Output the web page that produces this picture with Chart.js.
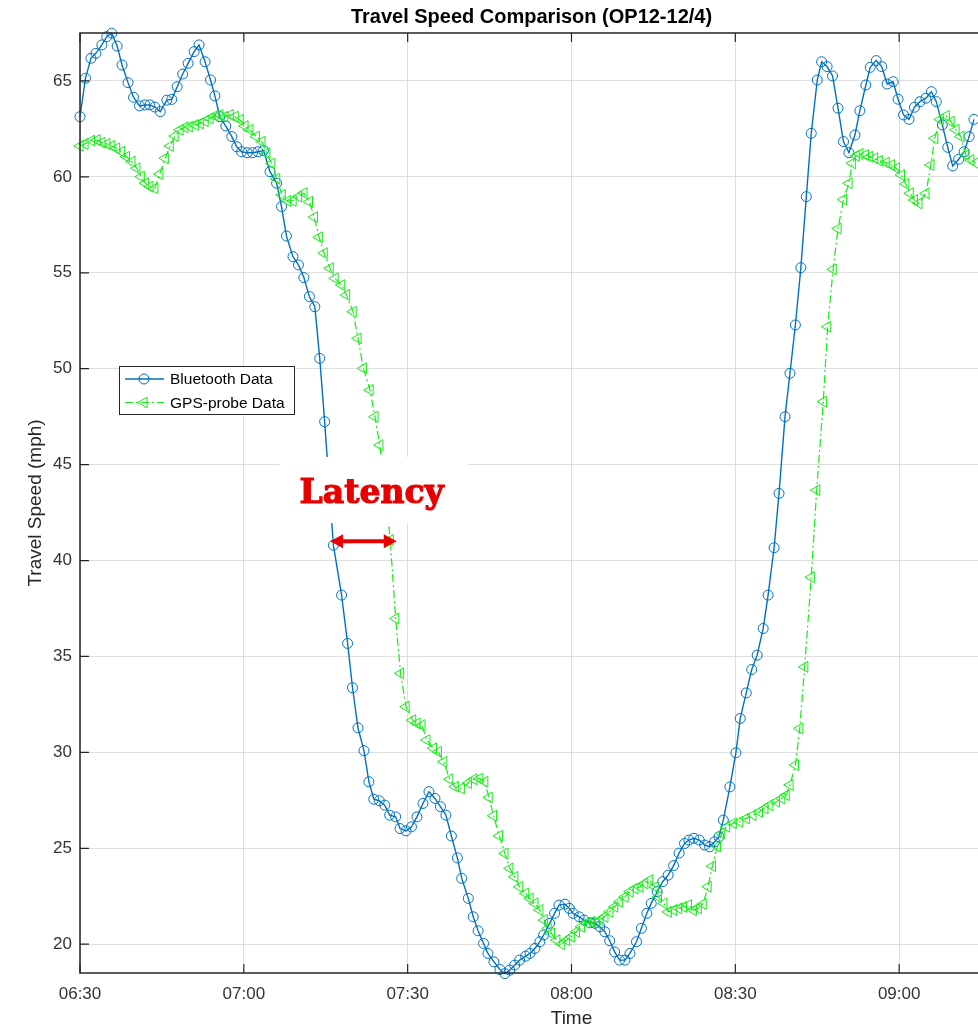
<!DOCTYPE html>
<html>
<head>
<meta charset="utf-8">
<script src="https://cdn.jsdelivr.net/npm/chart.js@4.4.1/dist/chart.umd.min.js"></script>
<style>
html,body{margin:0;padding:0;overflow:hidden;background:#fff;}
#wrap{position:absolute;left:0;top:0;width:1154px;height:1030px;}
</style>
</head>
<body>
<div id="wrap"><canvas id="c" width="1154" height="1030"></canvas></div>
<script>
// ---- data (minutes after 06:30) ----
const tickLabels = ['06:30','07:00','07:30','08:00','08:30','09:00','09:30'];

const btTimes = [0,1.0,2.0,2.9,4.0,4.9,5.8,6.8,7.7,8.8,9.8,10.9,11.9,12.8,13.7,14.7,15.9,16.8,17.8,18.8,
19.8,20.9,21.8,22.9,23.9,24.7,25.6,26.7,27.8,28.7,29.6,30.6,31.6,32.6,33.6,34.8,36.0,36.9,37.8,39.0,
40.0,41.0,42.0,43.0,43.9,44.8,46.4,47.9,49.0,49.9,50.9,52.0,52.9,53.8,54.8,55.8,56.7,57.8,58.6,59.7,
60.7,61.7,62.8,63.9,65.0,66.0,67.0,68.0,69.1,69.9,71.1,72.0,72.9,73.9,74.7,75.8,76.9,77.8,78.7,79.6,
80.5,81.6,82.4,83.3,84.2,84.9,86.0,86.9,87.7,88.8,89.6,90.3,91.4,92.3,93.4,94.3,95.2,96.1,97.0,97.9,
98.8,99.8,100.7,101.9,102.8,103.8,104.6,105.7,106.7,107.7,108.7,109.7,110.7,111.5,112.4,113.4,114.4,115.3,116.2,117.0,
117.8,119.0,120.1,120.9,122.0,123.0,124.0,125.1,126.0,127.1,128.0,129.1,130.0,131.0,132.0,133.0,133.9,135.0,135.8,136.8,
137.8,138.8,139.8,140.8,141.9,142.8,143.9,144.7,145.8,146.8,147.8,148.9,149.8,150.8,151.8,152.8,153.8,154.9,155.9,156.8,
157.9,158.9,159.8,160.9,161.9,162.8,163.7];
const btSpeeds = [63.14,65.14,66.18,66.44,66.88,67.31,67.49,66.82,65.83,64.91,64.15,63.70,63.75,63.75,63.64,63.40,64.00,64.04,64.70,65.36,
65.92,66.53,66.88,66.00,65.05,64.22,63.14,62.65,62.10,61.57,61.31,61.26,61.26,61.31,61.37,60.27,59.67,58.45,56.92,55.84,
55.41,54.75,53.76,53.23,50.54,47.24,40.80,38.20,35.68,33.37,31.28,30.09,28.47,27.56,27.48,27.25,26.73,26.64,26.03,25.91,
26.12,26.64,27.34,27.95,27.60,27.17,26.73,25.64,24.50,23.43,22.39,21.43,20.70,20.04,19.52,19.08,18.68,18.47,18.65,18.91,
19.17,19.38,19.52,19.78,20.13,20.48,21.09,21.61,22.04,22.09,21.87,21.61,21.43,21.26,21.12,21.09,20.91,20.65,20.18,19.60,
19.17,19.17,19.52,20.13,20.83,21.61,22.13,22.74,23.26,23.60,24.10,24.75,25.25,25.43,25.52,25.43,25.17,25.08,25.34,25.60,
26.47,28.20,29.98,31.77,33.10,34.32,35.07,36.46,38.20,40.67,43.50,47.50,49.76,52.28,55.27,58.97,62.27,65.05,66.00,65.75,
65.26,63.58,61.84,61.26,62.18,63.45,64.79,65.71,66.06,65.75,64.84,64.96,64.05,63.23,63.00,63.63,63.92,64.10,64.44,63.92,
62.71,61.54,60.57,60.92,61.31,62.10,63.00];

const gpsTimes = [0,0.9,2.1,3.1,4.0,4.9,5.8,6.7,7.6,8.5,9.5,10.4,11.2,12.0,12.8,13.7,14.6,15.6,16.5,17.4,
18.3,19.2,20.1,21.1,22.0,22.9,23.8,24.7,25.6,26.5,27.5,28.4,29.3,30.2,31.1,32.3,33.3,34.2,35.1,36.0,
37.0,38.0,39.0,40.0,41.0,42.0,42.9,43.8,44.7,45.8,46.7,47.9,48.8,50.0,50.9,51.9,53.1,54.0,54.9,56.0,
56.8,57.8,58.7,59.7,60.9,61.7,62.6,63.5,64.7,65.6,66.6,67.7,68.7,69.8,71.1,72.1,73.2,74.1,74.9,75.7,
76.8,77.8,78.7,79.6,80.5,81.6,82.4,83.3,84.2,85.0,85.7,86.3,87.3,88.2,89.1,90.0,90.9,91.8,92.8,93.7,
94.6,95.2,96.1,97.0,97.9,98.8,99.8,100.7,101.6,102.5,103.4,104.3,105.3,105.9,106.9,107.7,108.7,109.6,110.5,111.4,
112.3,113.2,114.1,115.0,115.8,116.7,117.5,118.4,119.6,120.8,122.0,123.2,124.4,125.4,126.3,127.5,128.5,129.3,130.0,131.0,
131.8,132.7,133.9,134.9,136.1,136.9,137.9,138.8,139.8,140.8,141.4,142.1,142.8,143.8,144.6,145.5,146.4,147.6,148.6,149.5,
150.4,151.2,152.0,152.8,153.6,154.9,155.8,156.5,157.5,158.6,159.5,160.4,161.3,162.2,163.1,164.0];
const gpsSpeeds = [61.61,61.72,61.89,61.92,61.78,61.72,61.61,61.49,61.31,61.05,60.79,60.45,60.01,59.67,59.49,59.40,60.15,60.97,61.61,62.13,
62.45,62.59,62.62,62.71,62.79,62.91,63.05,63.18,63.23,63.14,63.23,63.14,62.97,62.65,62.45,62.10,61.84,61.23,60.70,59.90,
59.06,58.75,58.75,58.97,59.16,58.70,57.90,56.85,56.02,55.24,54.71,54.36,53.84,52.97,51.58,50.02,48.89,47.50,46.02,43.50,
41.07,36.98,34.12,32.38,31.68,31.51,31.42,30.64,30.21,30.03,29.51,28.60,28.21,28.12,28.40,28.60,28.64,28.47,27.65,26.70,
25.65,24.73,23.95,23.51,22.99,22.65,22.39,22.13,21.78,21.26,20.83,20.56,20.21,20.00,20.21,20.39,20.65,20.91,21.12,21.17,
21.12,21.26,21.43,21.69,21.95,22.21,22.47,22.74,22.91,22.99,23.17,23.34,22.99,22.47,22.13,21.69,21.78,21.87,21.95,22.04,
21.78,21.87,22.10,23.00,24.07,25.10,25.78,26.12,26.30,26.38,26.56,26.73,26.90,27.08,27.25,27.43,27.60,27.77,28.30,29.34,
31.25,34.46,39.13,43.67,48.28,52.19,55.18,57.30,58.82,59.67,60.71,61.10,61.19,61.14,61.05,60.97,60.84,60.74,60.62,60.45,
60.10,59.63,59.14,58.80,58.62,59.14,60.62,62.01,63.00,63.18,62.88,62.45,62.10,61.14,60.88,60.72];

// annotation (data units)
const latencyBox = {t0: 36.6, t1: 71.0, v0: 41.95, v1: 45.4};
const latencyText = {t: 53.4, v: 42.98, text: 'Latency'};
const latencyArrow = {t0: 45.8, t1: 58.0, v: 41.0};

// ---- styles ----
const BLUE = '#0072bd';
const GREEN = '#11ee11';
const AXIS = '#262626';
const FONT = "'Liberation Sans', Arial, Helvetica, sans-serif";

const decorPlugin = {
  id: 'decor',
  afterDatasetsDraw(chart) {
    const {ctx, chartArea: a, scales: {x, y}} = chart;
    ctx.save();
    // white box behind latency label
    const bx0 = x.getPixelForValue(latencyBox.t0), bx1 = x.getPixelForValue(latencyBox.t1);
    const by0 = y.getPixelForValue(latencyBox.v1), by1 = y.getPixelForValue(latencyBox.v0);
    ctx.fillStyle = '#ffffff';
    ctx.fillRect(bx0, by0, bx1 - bx0, by1 - by0);
    // latency text
    ctx.fillStyle = '#e80000';
    ctx.strokeStyle = '#e80000';
    ctx.lineWidth = 1.2;
    ctx.font = "bold 33px 'DejaVu Serif', serif";
    ctx.textAlign = 'center';
    ctx.textBaseline = 'alphabetic';
    const tx = x.getPixelForValue(latencyText.t), ty = y.getPixelForValue(latencyText.v);
    ctx.fillText(latencyText.text, tx, ty);
    ctx.strokeText(latencyText.text, tx, ty);
    // arrow
    const ax0 = x.getPixelForValue(latencyArrow.t0), ax1 = x.getPixelForValue(latencyArrow.t1);
    const ay = y.getPixelForValue(latencyArrow.v);
    const hl = 13, hw = 7;
    ctx.lineWidth = 4;
    ctx.beginPath(); ctx.moveTo(ax0 + hl - 2, ay); ctx.lineTo(ax1 - hl + 2, ay); ctx.stroke();
    ctx.beginPath(); ctx.moveTo(ax0, ay); ctx.lineTo(ax0 + hl, ay - hw); ctx.lineTo(ax0 + hl, ay + hw); ctx.closePath(); ctx.fill();
    ctx.beginPath(); ctx.moveTo(ax1, ay); ctx.lineTo(ax1 - hl, ay - hw); ctx.lineTo(ax1 - hl, ay + hw); ctx.closePath(); ctx.fill();
    // frame + inner ticks
    ctx.strokeStyle = AXIS;
    ctx.lineWidth = 1.5;
    ctx.strokeRect(a.left, a.top, a.right - a.left, a.bottom - a.top);
    ctx.lineWidth = 1.2;
    ctx.beginPath();
    y.ticks.forEach(tk => {
      const py = y.getPixelForValue(tk.value);
      ctx.moveTo(a.left, py); ctx.lineTo(a.left + 9, py);
      ctx.moveTo(a.right, py); ctx.lineTo(a.right - 9, py);
    });
    x.ticks.forEach(tk => {
      const px = x.getPixelForValue(tk.value);
      ctx.moveTo(px, a.bottom); ctx.lineTo(px, a.bottom - 9);
      ctx.moveTo(px, a.top); ctx.lineTo(px, a.top + 9);
    });
    ctx.stroke();
    // legend
    const lx = a.left + 39, ly = a.top + 333, lw = 175, lh = 48;
    ctx.fillStyle = '#fff';
    ctx.fillRect(lx, ly, lw, lh);
    ctx.strokeStyle = AXIS; ctx.lineWidth = 1;
    ctx.strokeRect(lx + 0.5, ly + 0.5, lw, lh);
    const rows = [
      {ds: chart.data.datasets[0], yy: ly + 13},
      {ds: chart.data.datasets[1], yy: ly + 36.5}
    ];
    rows.forEach(r => {
      const ds = r.ds;
      ctx.strokeStyle = ds.borderColor;
      ctx.lineWidth = ds.borderWidth;
      ctx.setLineDash(ds.borderDash || []);
      ctx.beginPath(); ctx.moveTo(lx + 6, r.yy); ctx.lineTo(lx + 45, r.yy); ctx.stroke();
      ctx.setLineDash([]);
      ctx.fillStyle = 'rgba(0,0,0,0)';
      ctx.lineWidth = 1;
      Chart.helpers.drawPoint(ctx, {pointStyle: ds.pointStyle, rotation: ds.pointRotation || 0, radius: ds.pointRadius, borderWidth: 1}, lx + 25, r.yy);
      ctx.fillStyle = '#000';
      ctx.font = '15.5px ' + FONT;
      ctx.textAlign = 'left';
      ctx.textBaseline = 'middle';
      ctx.fillText(ds.label, lx + 51, r.yy + 1);
    });
    ctx.restore();
  }
};

new Chart(document.getElementById('c'), {
  type: 'line',
  data: {
    datasets: [
      {
        label: 'Bluetooth Data',
        data: btTimes.map((t, i) => ({x: t, y: btSpeeds[i]})),
        borderColor: BLUE, borderWidth: 1.4,
        pointStyle: 'circle', pointRadius: 5, pointBorderWidth: 1,
        pointBorderColor: BLUE, pointBackgroundColor: 'rgba(0,0,0,0)',
        tension: 0, fill: false, clip: false, order: 2
      },
      {
        label: 'GPS-probe Data',
        data: gpsTimes.map((t, i) => ({x: t, y: gpsSpeeds[i]})),
        borderColor: GREEN, borderWidth: 1.2, borderDash: [8, 3, 2, 3],
        pointStyle: 'triangle', pointRotation: -90, pointRadius: 6.3, pointBorderWidth: 1,
        pointBorderColor: GREEN, pointBackgroundColor: 'rgba(0,0,0,0)',
        tension: 0, fill: false, clip: false, order: 1
      }
    ]
  },
  options: {
    responsive: false,
    animation: false,
    events: [],
    layout: {padding: {top: 0, left: 0, right: 91, bottom: 0}},
    plugins: {
      legend: {display: false},
      tooltip: {enabled: false},
      title: {
        display: true,
        text: 'Travel Speed Comparison (OP12-12/4)',
        color: '#000',
        font: {family: FONT, size: 20, weight: 'bold', lineHeight: 1.2},
        padding: {top: 5, bottom: 4}
      }
    },
    scales: {
      x: {
        type: 'linear', min: 0, max: 180,
        afterFit: s => { s.height = 57; },
        grid: {color: '#dedede', lineWidth: 1, drawTicks: false},
        border: {display: false},
        ticks: {
          stepSize: 30, includeBounds: false, autoSkip: false, maxRotation: 0,
          padding: 11, color: '#333', font: {family: FONT, size: 17},
          callback: (v, i) => tickLabels[i]
        },
        title: {display: true, text: 'Time', color: '#262626', font: {family: FONT, size: 19}, padding: {top: 0, bottom: 0}}
      },
      y: {
        min: 18.5, max: 67.5,
        afterFit: s => { s.width = 80; },
        grid: {color: '#dedede', lineWidth: 1, drawTicks: false},
        border: {display: false},
        ticks: {stepSize: 5, includeBounds: false, padding: 8, color: '#333', font: {family: FONT, size: 17}},
        title: {display: true, text: 'Travel Speed (mph)', color: '#262626', font: {family: FONT, size: 19}, padding: {top: 24, bottom: 0}}
      }
    }
  },
  plugins: [decorPlugin]
});
</script>
</body>
</html>
